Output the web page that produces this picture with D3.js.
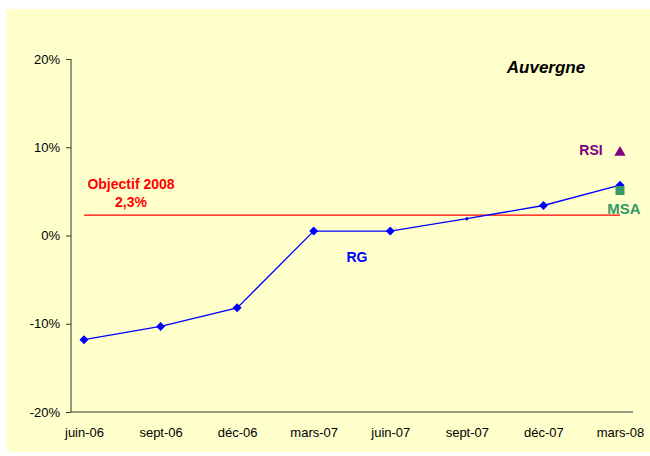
<!DOCTYPE html>
<html><head><meta charset="utf-8">
<script src="https://cdn.jsdelivr.net/npm/d3@7/dist/d3.min.js"></script>
<style>body{margin:0;background:#fff}svg{display:block}text{font-family:Arial,"Liberation Sans",sans-serif}</style>
</head><body><svg id="c" width="650" height="456"></svg>
<script>
const categories = ["juin-06","sept-06","déc-06","mars-07","juin-07","sept-07","déc-07","mars-08"];
const rgValues = [-11.8, -10.3, -8.2, 0.5, 0.5, 1.9, 3.4, 5.7];
const rsiValues = [{cat:"mars-08", v:9.4}];
const msaValues = [{cat:"mars-08", v:5.1}];
const objectif = 2.3;
const yTicks = [-20, -10, 0, 10, 20];

const svg = d3.select("#c");
svg.append("rect").attr("x",7).attr("y",9).attr("width",643).attr("height",443).attr("fill","#FFFFCC");

const x = d3.scalePoint().domain(categories).range([71,633]).padding(0.17);
const y = d3.scaleLinear().domain([-20,20]).range([412,59]);

// Y axis
const yAxis = d3.axisLeft(y).tickValues(yTicks).tickSize(5).tickFormat(d=>d+"%");
const gy = svg.append("g").attr("transform","translate(71,0)").call(yAxis);
gy.select(".domain").attr("stroke","#333").attr("d","M0,59V412");
gy.selectAll(".tick line").attr("stroke","#333");
gy.selectAll(".tick text").attr("font-size",13).attr("fill","#000").attr("x",-11);

// X axis
const xAxis = d3.axisBottom(x).tickSize(0).tickPadding(16);
const gx = svg.append("g").attr("transform","translate(0,412)").call(xAxis);
gx.select(".domain").attr("stroke","#333").attr("d","M71,0H633");
gx.selectAll(".tick text").attr("font-size",13).attr("fill","#000");

// Objective line
svg.append("line").attr("x1",x(categories[0])).attr("x2",x(categories[categories.length-1]))
  .attr("y1",y(objectif)).attr("y2",y(objectif)).attr("stroke","#FF0000").attr("stroke-width",1.2);
svg.append("text").attr("x",131).attr("y",189).attr("text-anchor","middle").attr("font-size",14)
  .attr("font-weight","bold").attr("fill","#FF0000").text("Objectif 2008");
svg.append("text").attr("x",131).attr("y",207).attr("text-anchor","middle").attr("font-size",14)
  .attr("font-weight","bold").attr("fill","#FF0000").text("2,3%");

// RG line
const line = d3.line().x((d,i)=>x(categories[i])).y(d=>y(d));
svg.append("path").datum(rgValues).attr("d",line).attr("fill","none").attr("stroke","#0000FF").attr("stroke-width",1.3);
svg.selectAll(".pt").data(rgValues).enter().append("path")
  .attr("transform",(d,i)=>`translate(${x(categories[i])},${y(d)})`)
  .attr("d",(d,i)=>{ const r = categories[i]==="sept-07"?2:4.5; return `M0,${-r}L${r},0L0,${r}L${-r},0Z`; })
  .attr("fill","#0000FF");

// MSA square
svg.selectAll(".msa").data(msaValues).enter().append("rect")
  .attr("x",d=>x(d.cat)-4.5).attr("y",d=>y(d.v)-4.5).attr("width",9).attr("height",9).attr("fill","#339966");
// RSI triangle
svg.selectAll(".rsi").data(rsiValues).enter().append("path")
  .attr("transform",d=>`translate(${x(d.cat)},${y(d.v)})`)
  .attr("d",d3.symbol().type(d3.symbolTriangle).size(55)()).attr("fill","#800080");

// Labels
svg.append("text").attr("x",591).attr("y",155).attr("text-anchor","middle").attr("font-size",14)
  .attr("font-weight","bold").attr("fill","#800080").text("RSI");
svg.append("text").attr("x",624).attr("y",214).attr("text-anchor","middle").attr("font-size",15)
  .attr("font-weight","bold").attr("fill","#339966").text("MSA");
svg.append("text").attr("x",357).attr("y",262).attr("text-anchor","middle").attr("font-size",14)
  .attr("font-weight","bold").attr("fill","#0000FF").text("RG");
svg.append("text").attr("x",546).attr("y",73).attr("text-anchor","middle").attr("font-size",17)
  .attr("font-weight","bold").attr("font-style","italic").attr("fill","#000").text("Auvergne");
</script></body></html>
